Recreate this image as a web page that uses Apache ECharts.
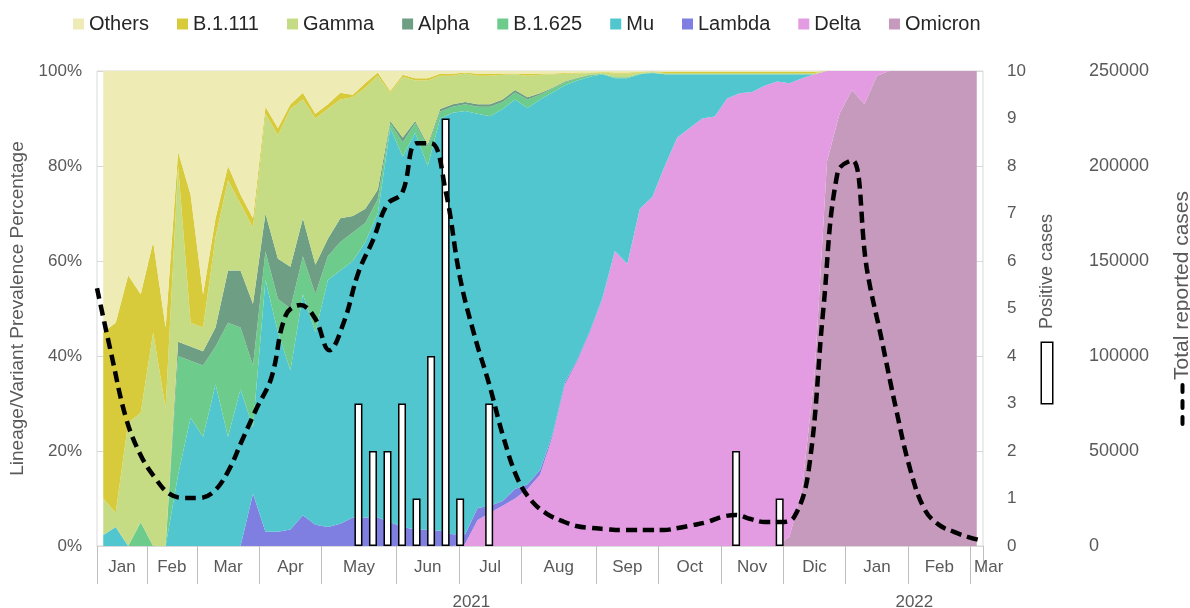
<!DOCTYPE html>
<html><head><meta charset="utf-8">
<script src="https://cdn.jsdelivr.net/npm/echarts@6/dist/echarts.min.js"></script>
<style>html,body{margin:0;padding:0;background:#fff}#c{width:1190px;height:608px}</style>
</head><body><div id="c"></div>
<script>
// ---- axis / category data ----
const weekCount = 71;                       // weekly prevalence samples
const monthNames = ['Jan','Feb','Mar','Apr','May','Jun','Jul','Aug','Sep','Oct','Nov','Dic','Jan','Feb','Mar'];
const monthStarts = [0,4,8,13,18,24,29,34,40,45,50,55,60,65,70]; // week index where each month begins
const yearNames = ['2021','2022'];
const yearStarts = [0,60];
const caseWeekCount = 62;                   // weekly case counts

// ---- prevalence (%) per week, bottom of stack first ----
const omicron = [0,0,0,0,0,0,0,0,0,0, 0,0,0,0,0,0,0,0,0,0, 0,0,0,0,0,0,0,0,0,0, 0,0,0,0,0,0,0,0,0,0, 0,0,0,0,0,0,0,0,0,0, 0,0,0,0,0,2,12,36,81,91, 96,93,99,100,100,100,100,100,100,100, 100];
const delta = [0,0,0,0,0,0,0,0,0,0, 0,0,0,0,0,0,0,0,0,0, 0,0,0,0,0,0,0,0,0,0.5, 5.5,7,8.5,10,12,15,23,34,39,45, 52,62,59.4,71,73.5,80,86,88,90,90.4, 94.2,95.3,95.6,96.9,97.8,95.4,86.5,63.3,19,9, 4,7,1,0,0,0,0,0,0,0, 0];
const lambda = [0,0,0,0,0,0,0,0,0,0, 0,0,11,3,3,3.5,6.5,4.5,4,4.7, 6,6,6,5,4,3.5,3.4,3.2,2.5,2, 2.5,1.5,1,2,1,1,0.5,0.5,0.3,0.3, 0.2,0.1,0,0,0,0,0,0,0,0, 0,0,0,0,0,0,0,0,0,0, 0,0,0,0,0,0,0,0,0,0, 0];
const mu = [2.3,4,0,0,0,0,15,27,23,34, 23,33,14,53,42,33.5,46.5,40.5,52,53.3, 54,58,64,83,78,83.5,76.6,86.8,88.7,89.1, 83,82,82.5,82,79.2,78,72,62.5,58.7,53.5, 47.1,36.4,39.1,28.3,26.1,19.3,13.3,11.3,9.3,8.9, 5.1,4.0,3.7,2.4,1.5,1.9,0.8,0,0,0, 0,0,0,0,0,0,0,0,0,0, 0];
const b1625 = [0,0,0,5,0,0,25,12,15,8, 24,13,13,6,7,13,8,8,5,6, 6,4,3,1,3,2,4,1.5,1.3,1.4, 1.5,2,1.5,1.5,1.8,1,0.8,0.6,0.5,0.3, 0.1,0.2,0.2,0.1,0.1,0,0,0,0,0, 0,0,0,0,0,0,0,0,0,0, 0,0,0,0,0,0,0,0,0,0, 0];
const alpha = [0,0,0,0,0,0,3,3,3,4, 11,12,13,8,8.5,8.8,8,6.2,3.7,5, 3.5,3,2,0.5,1,0.5,0.5,0.5,0.5,0.5, 0.5,0.5,0.5,0.5,0.5,0.3,0.2,0.2,0.1,0.1, 0,0,0,0,0,0,0,0,0,0, 0,0,0,0,0,0,0,0,0,0, 0,0,0,0,0,0,0,0,0,0, 0];
const gamma = [7.7,3,26,23,45,29,37,5,5,19, 19,14,16,21,26,33.2,25,30.8,27.3,25, 25,25.5,24,5.9,12.8,8.5,13.5,7,6,6, 6,6,5.2,3.3,4.5,3.9,2.8,1.6,0.9,0.4, 0.3,0.8,0.8,0.3,0.1,0.3,0.3,0.3,0.3,0.3, 0.3,0.3,0.3,0.3,0.3,0.3,0.3,0.3,0,0, 0,0,0,0,0,0,0,0,0,0, 0];
const b1111 = [35,40,31,25,19,17,3,27,7,4, 3,2,2,1.5,1.5,1,1.4,1,1,1.4, 0.5,1,0.7,0.4,0.4,0.5,0.5,0.4,0.4,0.2, 0.4,0.4,0.3,0.2,0.4,0.3,0.2,0.2,0.2,0.1, 0.1,0.2,0.2,0.1,0.1,0.2,0.2,0.2,0.2,0.2, 0.2,0.2,0.2,0.2,0.2,0.2,0.2,0.2,0,0, 0,0,0,0,0,0,0,0,0,0, 0];
const others = [55,53,43,47,36,54,17,26,47,31, 20,26,31,7.5,12,7,4.6,9,7,4.6, 5,2.5,0.3,4.2,0.8,1.5,1.5,0.6,0.6,0.3, 0.6,0.6,0.5,0.5,0.6,0.5,0.5,0.4,0.3,0.3, 0.2,0.3,0.3,0.2,0.1,0.2,0.2,0.2,0.2,0.2, 0.2,0.2,0.2,0.2,0.2,0.2,0.2,0.2,0,0, 0,0,0,0,0,0,0,0,0,0, 0];

// ---- positive cases (bars) and total reported cases (dashed line) ----
const positiveWeeks = [18,19,20,21,22,23,24,25,27,44,47];
const positiveCases = [3,2,2,3,1,4,9,1,3,2,1];
const totalCases = [135700,100500,67300,47900,35800,27400,25300,25300,28400,38900,
  55800,72600,88400,121500,126800,120000,103000,117900,144000,161000,
  180000,185700,212000,212000,187000,141000,110500,85200,56800,34700,
  23100,16800,13200,10500,9500,8900,8400,8400,8400,8400,
  9500,11000,12600,15300,16300,14200,12600,12600,15300,40000,
  124000,197000,203000,146000,109500,72600,40000,19000,11000,7400,
  4700,2600];

const legendOrder = ['Others','B.1.111','Gamma','Alpha','B.1.625','Mu','Lambda','Delta','Omicron'];
const stackDefs = [
  ['Omicron', omicron, '#C69ABD'],
  ['Delta', delta, '#E39BE2'],
  ['Lambda', lambda, '#7E7FE0'],
  ['Mu', mu, '#51C6CE'],
  ['B.1.625', b1625, '#6DCC8B'],
  ['Alpha', alpha, '#6E9F84'],
  ['Gamma', gamma, '#C6DC84'],
  ['B.1.111', b1111, '#D8CB3B'],
  ['Others', others, '#EEEBB5']
];

const grey = '#595959';
const weekCats = Array.from({ length: weekCount }, (_, i) => 'w' + i);
const monthEnds = monthStarts.slice(1).concat([weekCount]);
const monthCenters = monthStarts.map((s, i) => (s + monthEnds[i]) / 2);
const yearEnds = yearStarts.slice(1).concat([weekCount]);
const yearCenters = yearStarts.map((s, i) => (s + yearEnds[i]) / 2);

const series = stackDefs.map(([name, vals, color]) => ({
  name, type: 'line', stack: 'prev', xAxisIndex: 3, yAxisIndex: 0,
  data: vals,
  symbol: 'none', lineStyle: { width: 0, opacity: 0 },
  areaStyle: { color, opacity: 1 }, itemStyle: { color },
  emphasis: { disabled: true }, z: 1, animation: false
}));
series.push({
  name: 'Positive cases', type: 'bar', xAxisIndex: 2, yAxisIndex: 1,
  data: positiveWeeks.map((w, i) => [w, positiveCases[i]]),
  barWidth: 8, itemStyle: { color: '#ffffff', borderColor: '#000000', borderWidth: 1.5 },
  z: 3, animation: false
});
series.push({
  name: 'Total reported cases', type: 'line', xAxisIndex: 2, yAxisIndex: 2,
  data: totalCases.map((v, j) => [j, v]), smooth: 0.4, symbol: 'none',
  lineStyle: { color: '#000000', width: 4.5, type: [11, 6] }, z: 5, animation: false
});

const chart = echarts.init(document.getElementById('c'), null, { renderer: 'canvas' });
chart.setOption({
  animation: false,
  textStyle: { fontFamily: 'Liberation Sans, Arial, sans-serif' },
  legend: {
    data: legendOrder, left: 73, top: 14, padding: 0, icon: 'rect', itemWidth: 11, itemHeight: 11,
    itemGap: 28, textStyle: { fontSize: 20, color: '#262626' }, selectedMode: false
  },
  grid: { left: 97, right: 207, top: 71, bottom: 62, show: true, borderColor: '#d9d9d9', borderWidth: 1,
          containLabel: false, outerBoundsMode: 'none' },
  xAxis: [
    {
      type: 'value', min: 0, max: weekCount, position: 'bottom',
      axisLine: { show: true, lineStyle: { color: '#d9d9d9' } }, splitLine: { show: false },
      axisTick: { show: true, customValues: monthStarts, length: 38, lineStyle: { color: '#bfbfbf' } },
      axisLabel: {
        customValues: monthCenters, fontSize: 17, color: grey, margin: 13,
        formatter: v => {
          const i = monthCenters.indexOf(v);
          if (i === monthCenters.length - 1) return '{m|' + monthNames[i] + '}';
          return i >= 0 ? monthNames[i] : '';
        },
        rich: { m: { fontSize: 17, color: grey, padding: [0, 0, 0, 24] } }
      }
    },
    {
      type: 'value', min: 0, max: weekCount, position: 'bottom', offset: 38,
      axisLine: { show: false }, splitLine: { show: false },
      axisTick: { show: true, customValues: yearStarts.concat([weekCount]), length: 26, lineStyle: { color: '#bfbfbf' } },
      axisLabel: {
        customValues: yearCenters, fontSize: 17, color: grey, margin: 10,
        formatter: v => { const i = yearCenters.indexOf(v); return i >= 0 ? yearNames[i] : ''; }
      }
    },
    { type: 'value', min: 0, max: caseWeekCount - 1, show: false },
    { type: 'category', data: weekCats, boundaryGap: true, show: false }
  ],
  yAxis: [
    {
      type: 'value', min: 0, max: 100, interval: 20, position: 'left',
      axisLine: { show: false }, axisTick: { show: false },
      splitLine: { show: true, lineStyle: { color: '#d9d9d9' } },
      axisLabel: { formatter: '{value}%', fontSize: 17, color: grey, margin: 15 },
      name: 'Lineage/Variant Prevalence Percentage', nameLocation: 'middle', nameRotate: 90, nameGap: 68,
      nameTextStyle: { fontSize: 19, color: grey }
    },
    {
      type: 'value', min: 0, max: 10, interval: 1, position: 'right',
      axisLine: { show: false }, axisTick: { show: false }, splitLine: { show: false },
      axisLabel: { fontSize: 17, color: grey, margin: 24 },
      name: '{i|\u2002}{s|\u2002}{t|Positive cases}', nameLocation: 'middle', nameRotate: 90, nameGap: 55,
      nameTextStyle: {
        rich: {
          i: { width: 60, height: 10, backgroundColor: '#ffffff', borderColor: '#000000', borderWidth: 1.5 },
          s: { width: 14 },
          t: { fontSize: 18, color: grey }
        }
      }
    },
    {
      type: 'value', min: 0, max: 250000, interval: 50000, position: 'right', offset: 80,
      axisLine: { show: false }, axisTick: { show: false }, splitLine: { show: false },
      axisLabel: { fontSize: 18, color: grey, margin: 26, formatter: v => String(v) },
      name: '{d|\u2002}{g|\u2002}{d|\u2002}{g|\u2002}{d|\u2002}{h|\u2002}{t|Total reported cases}',
      nameLocation: 'middle', nameRotate: 90, nameGap: 109,
      nameTextStyle: {
        rich: {
          d: { width: 11, height: 4, backgroundColor: '#000000', borderRadius: 2 },
          g: { width: 5 },
          h: { width: 3 },
          t: { fontSize: 21, color: grey }
        }
      }
    }
  ],
  series
});
</script></body></html>
